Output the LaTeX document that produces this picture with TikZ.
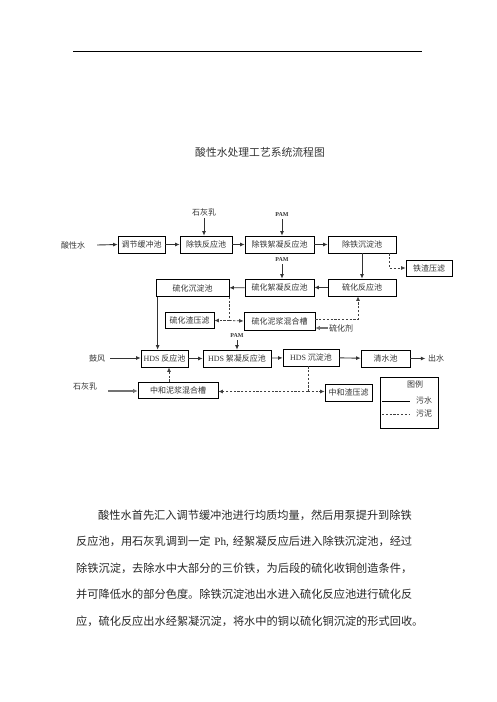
\documentclass[tikz,border=0pt]{standalone}
\usepackage{fontspec}
\setmainfont{Liberation Serif}
\newfontfamily\cjk{Noto Sans CJK SC}
\usetikzlibrary{arrows.meta}
\begin{document}
\begin{tikzpicture}[x=1pt,y=-1pt,
  box/.style={draw=black, line width=0.7pt, minimum height=17pt, inner sep=0pt, font=\fontsize{8}{9}\selectfont\cjk, text=black!80},
  lbl/.style={inner sep=0pt, font=\fontsize{8}{9}\selectfont\cjk, text=black!80},
  pam/.style={inner sep=0pt, font=\fontsize{6}{7}\selectfont\bfseries, text=black!80},
  tip/.style={-{Latex[length=4.5pt,width=4pt]}},
  arr/.style={draw=black!80, line width=0.9pt, tip},
  feed/.style={draw=black!55, line width=1.6pt, -{Latex[length=4.5pt,width=4.5pt]}},
  dsh/.style={draw=black!75, line width=0.8pt, dash pattern=on 2.2pt off 1.6pt},
  darr/.style={dsh, tip},
  para/.style={inner sep=0pt, anchor=west, font=\fontsize{11.2}{12}\selectfont\cjk, text=black!85}
]
\useasboundingbox (0,0) rectangle (496,702);
% top rule
\coordinate (r1) at (73,51);
\coordinate (r2) at (422,51);
\draw[line width=0.9pt] (r1) -- (r2);
% title
\node[inner sep=0pt, font=\fontsize{10.8}{12}\selectfont\cjk, text=black!80] (title) at (260,152) {酸性水处理工艺系统流程图};

% row 1
\node[box, minimum width=47pt] (tj) at (141.5,244.5) {调节缓冲池};
\node[box, minimum width=52pt] (ct) at (206,244.5) {除铁反应池};
\node[box, minimum width=69pt] (ctx) at (279.5,244.5) {除铁絮凝反应池};
\node[box, minimum width=68pt] (ctc) at (362,244.5) {除铁沉淀池};
\node[box, minimum width=46pt, minimum height=16pt] (tzy) at (429,268) {铁渣压滤};
% row 2
\node[box, minimum width=68pt] (lhf) at (362,287.5) {硫化反应池};
\node[box, minimum width=69pt] (lhx) at (279.5,287.5) {硫化絮凝反应池};
\node[box, minimum width=73pt] (lhc) at (192.5,288) {硫化沉淀池};
% row 3
\node[box, minimum width=49pt, minimum height=16pt] (lzy) at (189.5,320.5) {硫化渣压滤};
\node[box, minimum width=71pt, minimum height=18pt] (lnj) at (279.5,321) {硫化泥浆混合槽};
% row 4
\node[box, minimum width=47pt] (hr) at (164.5,358.5) {\textrm{HDS} 反应池};
\node[box, minimum width=68pt] (hx) at (237,358.5) {\textrm{HDS} 絮凝反应池};
\node[box, minimum width=56pt] (hc) at (311,357.5) {\textrm{HDS} 沉淀池};
\node[box, minimum width=49pt] (qs) at (385.5,358.5) {清水池};
% row 5
\node[box, minimum width=80pt, minimum height=16pt] (zn) at (178,390) {中和泥浆混合槽};
\node[box, minimum width=47pt] (zy) at (348.5,392.5) {中和渣压滤};

% labels
\node[lbl] (sxs) at (73,245) {酸性水};
\node[lbl] (shr1) at (204,212) {石灰乳};
\node[pam] (pam1) at (282,215) {PAM};
\node[pam] (pam2) at (282,260) {PAM};
\node[pam] (pam3) at (237,336) {PAM};
\node[lbl] (lhj) at (341,328) {硫化剂};
\node[lbl] (gf) at (97,358) {鼓风};
\node[lbl] (shr2) at (85,386) {石灰乳};
\node[lbl] (cs) at (436,358.5) {出水};

% row 1 flow
\draw[arr] (sxs.east) ++(12,0) coordinate (a0) -- (tj.west);
\draw[arr] (tj) -- (ct);
\draw[arr] (ct) -- (ctx);
\draw[arr] (ctx) -- (ctc);
\draw[arr] (shr1.south) ++(0,2) -- (shr1 |- ct.north);
\draw[arr] (pam1.south) ++(0,2) -- (pam1 |- ctx.north);
\draw[arr] (ctc) -- (lhf);
\draw[darr] ([xshift=-7pt]ctc.south east) |- (tzy.west);
% row 2 flow
\draw[arr] (pam2.south) ++(0,2) -- (pam2 |- lhx.north);
\draw[arr] (lhf) -- (lhx);
\draw[arr] (lhx) -- (lhc);
\draw[arr] ([xshift=2pt]lhc.south west) -- ([xshift=2pt]lhc.south west |- hr.north);
\coordinate (j1) at (lhc.south east |- lzy.east);
\draw[dsh] (lhc.south east) -- (j1);
\draw[darr] (j1) -- (lzy.east);
\draw[darr] (j1) -- (lnj.west);
\draw[darr] ([yshift=2pt]lnj.east) -| ([xshift=-4pt]lhf.south);
\draw[feed] (lhj.west) ++(-1,0) -- (lhj.west -| lnj.east);
% row 4 flow
\draw[arr] (pam3.south) ++(0,2) -- (pam3 |- hx.north);
\draw[arr] (gf.east) ++(5,0) -- (gf.east -| hr.west);
\draw[arr] (hr) -- (hx);
\draw[arr] (hx) -- (hc);
\draw[arr] (hc) -- (qs);
\draw[arr] (qs.east) -- ([xshift=15pt]qs.east);
% row 5
\coordinate (s2a) at (108,391);
\draw[feed] (s2a) -- (s2a -| zn.west);
\draw[darr] ([xshift=-9pt]zn.north) -- ([xshift=-9pt]zn.north |- hr.south);
\coordinate (j2) at ([xshift=-3pt]hc.south |- 0,391.5);
\draw[dsh] ([xshift=-3pt]hc.south) -- (j2);
\draw[darr] (j2) -- (j2 -| zn.east);
\draw[darr] (j2) -- (j2 -| zy.west);

% legend
\coordinate (lg1) at (380,377);
\coordinate (lg2) at (438,428);
\draw[line width=0.7pt] (lg1) rectangle (lg2);
\node[lbl] (tl) at (415,384) {图例};
\coordinate (ls1) at (382,401);
\coordinate (ls2) at (410,401);
\coordinate (ld1) at (382,414);
\coordinate (ld2) at (410,414);
\draw[line width=0.7pt] (ls1) -- (ls2);
\draw[dsh, line width=0.6pt] (ld1) -- (ld2);
\node[lbl] (lw) at (424,400) {污水};
\node[lbl] (ln) at (424,414) {污泥};

% paragraph
\node[para] (p1) at (98,515) {酸性水首先汇入调节缓冲池进行均质均量，然后用泵提升到除铁};
\node[para] (p2) at (76,541.5) {\makebox[336pt][s]{反应池，用石灰乳调到一定 \textrm{Ph,} 经絮凝反应后进入除铁沉淀池，经过}};
\node[para] (p3) at (76,568) {除铁沉淀，去除水中大部分的三价铁，为后段的硫化收铜创造条件，};
\node[para] (p4) at (76,594.5) {并可降低水的部分色度。除铁沉淀池出水进入硫化反应池进行硫化反};
\node[para] (p5) at (76,621) {应，硫化反应出水经絮凝沉淀，将水中的铜以硫化铜沉淀的形式回收。};
\end{tikzpicture}
\end{document}
